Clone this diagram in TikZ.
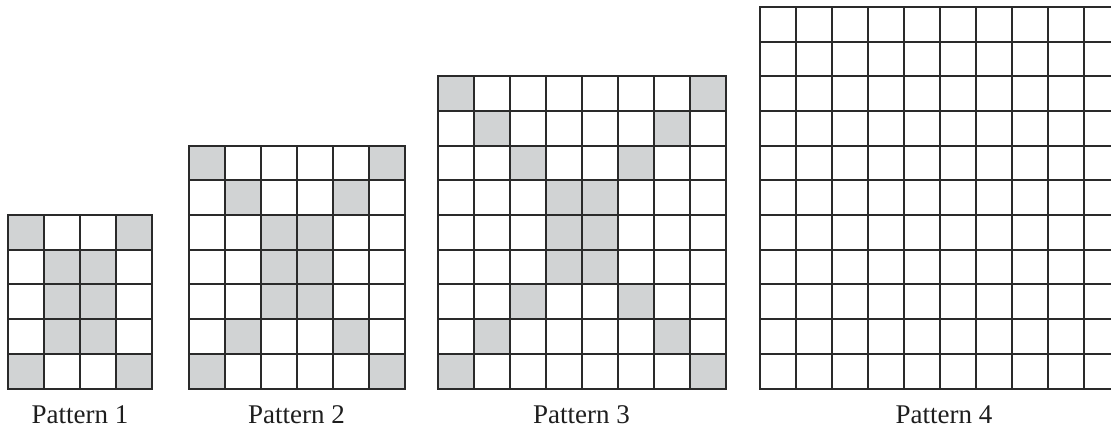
\documentclass[tikz,border=0pt]{standalone}
\usepackage{fontspec}
\setmainfont{Liberation Serif}
\definecolor{cellgray}{HTML}{D1D3D4}
\definecolor{gridline}{HTML}{2A2A2A}
\definecolor{labeltext}{HTML}{1E1E1E}

% cell size of every pattern
\newcommand{\cw}{36}
\newcommand{\ch}{34.7}

% shaded cells: #1,#2 = origin, #3 = list of col/row
\newcommand{\shadecells}[3]{%
  \foreach \c/\r in {#3} {%
    \fill[cellgray] ({#1+\c*\cw},{#2+\r*\ch}) rectangle ++(\cw,\ch);
  }%
}
% grid lines: #1,#2 = origin, #3 = columns, #4 = rows
\newcommand{\gridlines}[4]{%
  \foreach \i in {0,...,#3}
    \draw[gridstroke] ({#1+\i*\cw},#2) -- ({#1+\i*\cw},{#2+#4*\ch});
  \foreach \j in {0,...,#4}
    \draw[gridstroke] (#1,{#2+\j*\ch}) -- ({#1+#3*\cw},{#2+\j*\ch});
}

\begin{document}
\begin{tikzpicture}[x=1pt,y=-1pt,
  gridstroke/.style={draw=gridline, line width=2pt, line cap=rect},
  caption/.style={font=\fontsize{27}{30}\selectfont, text=labeltext, anchor=base, inner sep=0pt}]
\useasboundingbox (0,0) rectangle (1111,431);
\clip (0,0) rectangle (1111,431);

% Pattern 1: 4 x 5
\shadecells{8}{215}{0/0,3/0,1/1,2/1,1/2,2/2,1/3,2/3,0/4,3/4}
\gridlines{8}{215}{4}{5}
\node[caption] (lab1) at (80,423) {Pattern 1};

% Pattern 2: 6 x 7
\shadecells{188.5}{145.6}{0/0,5/0,1/1,4/1,2/2,3/2,2/3,3/3,2/4,3/4,1/5,4/5,0/6,5/6}
\gridlines{188.5}{145.6}{6}{7}
\node[caption] (lab2) at (296.5,423) {Pattern 2};

% Pattern 3: 8 x 9
\shadecells{437.5}{76.2}{0/0,7/0,1/1,6/1,2/2,5/2,3/3,4/3,3/4,4/4,3/5,4/5,2/6,5/6,1/7,6/7,0/8,7/8}
\gridlines{437.5}{76.2}{8}{9}
\node[caption] (lab3) at (581.5,423) {Pattern 3};

% Pattern 4: 10 x 11, blank
\gridlines{760}{6.8}{10}{11}
\node[caption] (lab4) at (944,423) {Pattern 4};
\end{tikzpicture}
\end{document}
